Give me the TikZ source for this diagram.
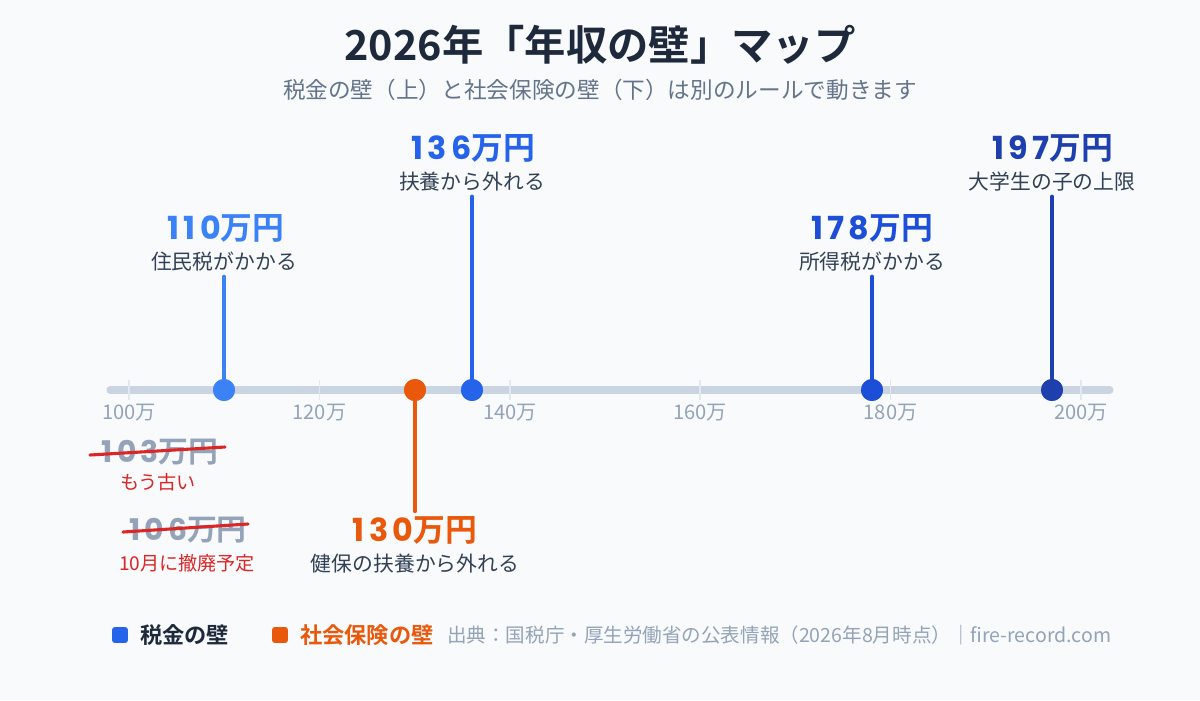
\documentclass[tikz,border=0pt]{standalone}
\usepackage{fontspec}
\setmainfont{Noto Sans CJK JP}[BoldFont={Noto Sans CJK JP Bold}]
\newfontfamily\numfont{Poppins}[Numbers=Monospaced, LetterSpace=14]
\usetikzlibrary{calc,positioning}

\definecolor{bgpage}{HTML}{F8FAFC}
\definecolor{axisgray}{HTML}{CBD5E1}
\definecolor{tickgray}{HTML}{E2E8F0}
\definecolor{labelgray}{HTML}{94A3B8}
\definecolor{subgray}{HTML}{64748B}
\definecolor{titledark}{HTML}{1E293B}
\definecolor{notedark}{HTML}{334155}
\definecolor{blueA}{HTML}{3B82F6}
\definecolor{blueB}{HTML}{2563EB}
\definecolor{blueC}{HTML}{1D4ED8}
\definecolor{blueD}{HTML}{1E40AF}
\definecolor{kenpo}{HTML}{EA580C}
\definecolor{redstrike}{HTML}{DC2626}

% amount in 万円, digits set wide
\newcommand{\manyen}[1]{{\numfont #1}万円}

\begin{document}
\begin{tikzpicture}[
    % GLOBAL CFG
    x=0.025cm, y=-0.025cm,
    % Styles
    axisline/.style={% the main scale
        line width=5pt,
        color=axisgray,
        line cap=round,
        },
    tickline/.style={% small marks on the scale
        line width=1.2pt,
        color=tickgray,
        },
    ticklabel/.style={% 100万, 120万 ...
        font=\fontsize{14.3}{16}\selectfont,
        text=labelgray,
        },
    wall/.style={% dots on the scale
        circle,
        fill=#1,
        inner sep=0pt,
        minimum size=15.6pt,
        },
    stem/.style={% line from dot to label
        line width=2.9pt,
        color=#1,
        line cap=round,
        },
    amount/.style={% big numbers
        font=\bfseries\fontsize{22.6}{26}\selectfont,
        text=#1,
        },
    note/.style={% explanation under the number
        font=\fontsize{14.8}{17}\selectfont,
        text=notedark,
        },
    oldamount/.style={% numbers that are no longer valid
        font=\bfseries\fontsize{21.2}{24}\selectfont,
        text=labelgray,
        },
    oldnote/.style={%
        font=\fontsize{13.6}{16}\selectfont,
        text=redstrike,
        },
    strike/.style={% red line through old numbers
        line width=2.2pt,
        color=redstrike,
        line cap=round,
        },
    legendbox/.style={%
        rectangle,
        rounded corners=2pt,
        fill=#1,
        minimum size=11.3pt,
        inner sep=0pt,
        },
    legendtext/.style={%
        font=\bfseries\fontsize{15.8}{18}\selectfont,
        text=#1,
        },
    ]

    % Page
    \fill[bgpage] (0,0) rectangle (1200,700);
    \useasboundingbox (0,0) rectangle (1200,700);

    % Title
    \node[font=\bfseries\fontsize{29.4}{34}\selectfont, text=titledark] (title) at (600,45) {2026年「年収の壁」マップ};
    \node[font=\fontsize{16.1}{19}\selectfont, text=subgray] (subtitle) at (600,90) {税金の壁（上）と社会保険の壁（下）は別のルールで動きます};

    % Scale
    \coordinate (axisL) at (110,390);
    \coordinate (axisR) at (1110,390);
    \draw[axisline] (axisL) -- (axisR);
    \foreach \v in {100,120,...,200}{
        \draw[tickline] ({129+9.52*(\v-100)},380) -- ({129+9.52*(\v-100)},400);
        \node[ticklabel] (t\v) at ({129+9.52*(\v-100)},413) {\v{}万};
    }

    % Tax walls (above)
    \node[amount=blueA] (n110) at (226,228) {\manyen{110}};
    \node[note] (d110) at (224,262) {住民税がかかる};
    \node[amount=blueB] (n136) at (473,148) {\manyen{136}};
    \node[note] (d136) at (472,182) {扶養から外れる};
    \node[amount=blueC] (n178) at (872,228) {\manyen{178}};
    \node[note] (d178) at (872,262) {所得税がかかる};
    \node[amount=blueD] (n197) at (1053,148) {\manyen{197}};
    \node[note] (d197) at (1052,182) {大学生の子の上限};

    % Social insurance wall (below)
    \node[amount=kenpo] (n130) at (415,530) {\manyen{130}};
    \node[note] (d130) at (415,564) {健保の扶養から外れる};

    % Dots
    \node[wall=blueA] (w110) at (224,390) {};
    \node[wall=blueB] (w136) at (472,390) {};
    \node[wall=blueC] (w178) at (872,390) {};
    \node[wall=blueD] (w197) at (1052,390) {};
    \node[wall=kenpo] (w130) at (415,390) {};

    % Stems
    \draw[stem=blueA] (d110.south) -- (w110.center);
    \draw[stem=blueB] (d136.south) -- (w136.center);
    \draw[stem=blueC] (d178.south) -- (w178.center);
    \draw[stem=blueD] (d197.south) -- (w197.center);
    \draw[stem=kenpo] (w130.center) -- (n130.north);
    % dots again on top of the stems
    \foreach \w/\col in {w110/blueA, w136/blueB, w178/blueC, w197/blueD, w130/kenpo}
        \fill[\col] (\w) circle (7.8pt);

    % Old walls
    \node[oldamount] (o103) at (160,452) {\manyen{103}};
    \node[oldnote] (x103) at (158,482) {もう古い};
    \draw[strike] ($(o103.center)+(-70,3)$) -- ($(o103.center)+(65,-5)$);
    \node[oldamount] (o106) at (188,530) {\manyen{106}};
    \node[oldnote] (x106) at (187,563) {10月に撤廃予定};
    \draw[strike] ($(o106.center)+(-65,2)$) -- ($(o106.center)+(60,-6)$);

    % Legend
    \node[legendbox=blueB] (k1) at (120,635) {};
    \node[legendtext=titledark, right=5pt of k1] (k1t) {税金の壁};
    \node[legendbox=kenpo] (k2) at (280,635) {};
    \node[legendtext=kenpo, right=5pt of k2] (k2t) {社会保険の壁};
    \node[anchor=west, inner sep=0pt, font=\fontsize{13.9}{16}\selectfont, text=labelgray] (src) at (447,635) {出典：国税庁・厚生労働省の公表情報（2026年8月時点）｜fire-record.com};

\end{tikzpicture}
\end{document}
